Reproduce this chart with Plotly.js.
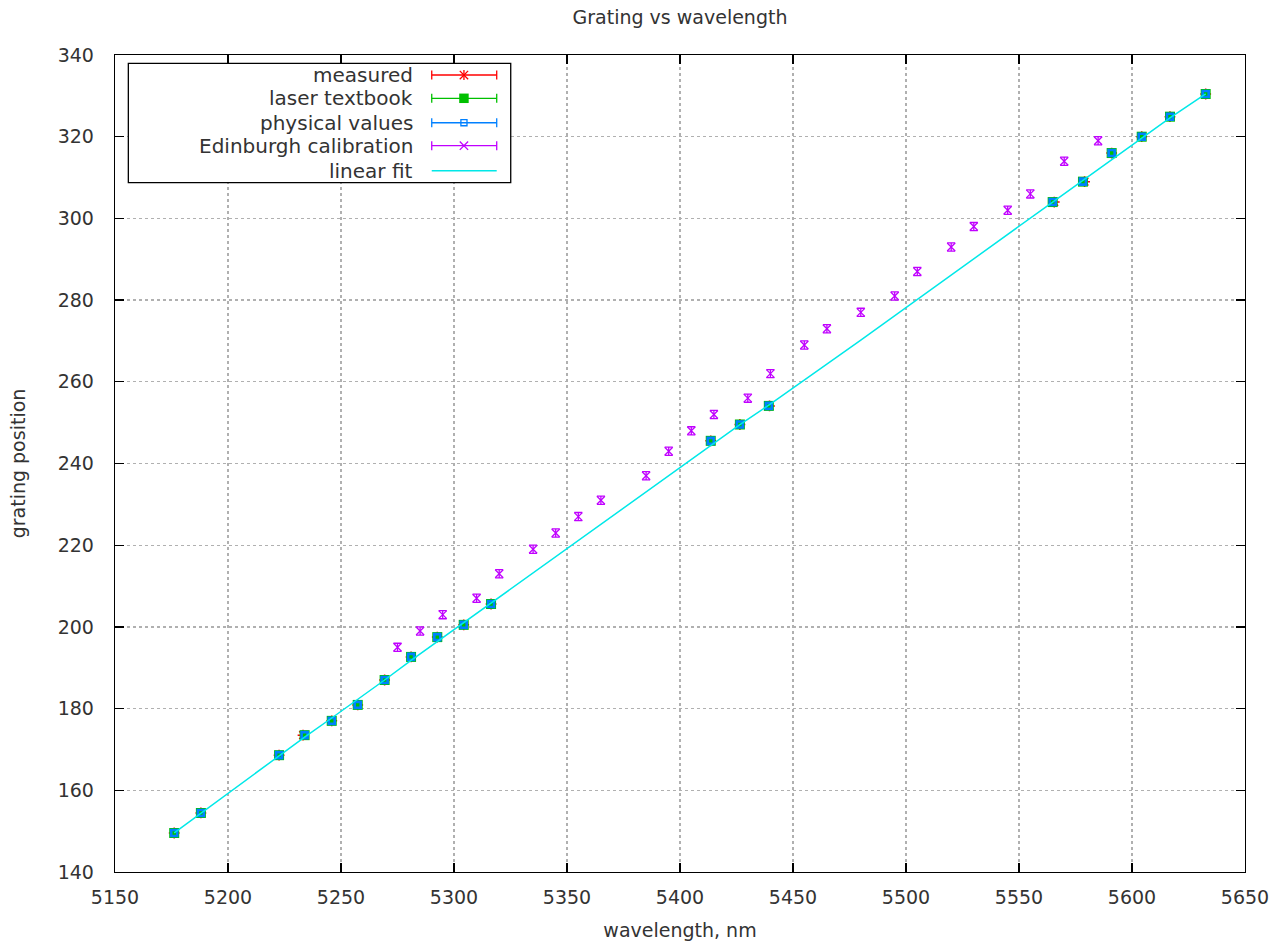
<!DOCTYPE html>
<html>
<head>
<meta charset="utf-8">
<script src="https://cdn.plot.ly/plotly-3.0.1.min.js"></script>
<style>html,body{margin:0;padding:0;background:#fff;}#chart{width:1283px;height:946px;}</style>
</head>
<body>
<div id="chart"></div>
<script>
// wavelength of the lines (nm as labelled on the chart)
const lineX = [5176.2, 5188.0, 5222.6, 5233.9, 5245.9, 5257.4, 5269.3, 5281.0, 5292.6, 5304.3, 5316.4, 5413.6, 5426.5, 5439.3, 5564.9, 5578.3, 5591.0, 5604.3, 5616.8, 5632.6];
// measured grating positions
const measuredX = [5176.2, 5188.0, 5222.6, 5233.2, 5245.9, 5257.4, 5269.3, 5281.0, 5292.6, 5304.3, 5316.4, 5413.6, 5426.5, 5439.6, 5565.6, 5579.0, 5591.0, 5604.3, 5616.8, 5632.6];
const measuredY = [149.55, 154.45, 168.6, 173.5, 177.0, 180.9, 187.0, 192.65, 197.5, 200.5, 205.6, 245.55, 249.55, 254.1, 304.0, 309.0, 316.0, 320.0, 324.9, 330.45];
const textbookY = [149.55, 154.45, 168.6, 173.5, 177.0, 180.9, 187.0, 192.65, 197.5, 200.5, 205.6, 245.55, 249.55, 254.1, 304.0, 309.0, 316.0, 320.0, 324.9, 330.45];
const physicalY = [149.55, 154.45, 168.6, 173.5, 177.0, 180.9, 187.0, 192.65, 197.5, 200.5, 205.6, 245.55, 249.55, 254.1, 304.0, 309.0, 316.0, 320.0, 324.9, 330.45];
// Edinburgh calibration
const edinX = [5275, 5285, 5295, 5310, 5320, 5335, 5345, 5355, 5365, 5385, 5395, 5405, 5415, 5430, 5440, 5455, 5465, 5480, 5495, 5505, 5520, 5530, 5545, 5555, 5570, 5585];
const edinY = [195, 199, 203, 207, 213, 219, 223, 227, 231, 237, 243, 248, 252, 256, 262, 269, 273, 277, 281, 287, 293, 298, 302, 306, 314, 319];
const edinErr = [1,1,1,1,1,1,1,1,1,1,1,1,1,1,1,1,1,1,1,1,1,1,1,1,1,1];
// linear fit
const fitX = [5176.2, 5188.0, 5222.6, 5233.9, 5245.9, 5257.4, 5269.3, 5281.0, 5292.6, 5304.3, 5316.4, 5413.6, 5426.5, 5439.3, 5480.0, 5564.9, 5578.3, 5591.0, 5604.3, 5616.8, 5632.6];
const fitY = [149.6, 154.4, 168.3, 173.0, 177.7, 182.2, 187.0, 191.8, 196.4, 201.0, 205.7, 244.4, 249.5, 254.3, 270.2, 304.0, 309.3, 314.3, 319.6, 324.6, 330.5];

const legendLabels = ["measured", "laser textbook", "physical values", "Edinburgh calibration", "linear fit"];
const colors = ["#ff0000", "#00c000", "#0080ff", "#c000ff", "#00e8e8"];

const FONT = "DejaVu Sans, Verdana, sans-serif";
const TXT = "#333333";

const traces = [
  {x: measuredX, y: measuredY, type: "scatter", mode: "markers", name: legendLabels[0], showlegend: false,
   marker: {symbol: "asterisk-open", size: 9, color: colors[0], line: {color: colors[0], width: 1.5}}},
  {x: lineX, y: textbookY, type: "scatter", mode: "markers", name: legendLabels[1], showlegend: false,
   marker: {symbol: "square", size: 10, color: colors[1], line: {width: 0}}},
  {x: lineX, y: physicalY, type: "scatter", mode: "markers", name: legendLabels[2], showlegend: false,
   marker: {symbol: "square-open", size: 6, color: colors[2], line: {color: "#0a7fd8", width: 2.6}}},
  {x: edinX, y: edinY, type: "scatter", mode: "markers", name: legendLabels[3], showlegend: false,
   error_y: {type: "data", array: edinErr, visible: true, color: colors[3], thickness: 1.3, width: 4},
   marker: {symbol: "x-thin-open", size: 8, color: colors[3], line: {color: colors[3], width: 1.3}}},
  {x: fitX, y: fitY, type: "scatter", mode: "lines", name: legendLabels[4], showlegend: false,
   line: {color: colors[4], width: 1.5}}
];

// custom gnuplot-style legend (paper coordinates)
const L = {x0: 0.0118, x1: 0.3502, y0: 0.8437, y1: 0.9898, textX: 0.2655,
           s0: 0.2803, s1: 0.3378, sc: 0.3088, cap: 0.0055};
const rowsY = [0.9755, 0.9470, 0.9171, 0.8890, 0.8584];
const shapes = [
  {type: "rect", xref: "paper", yref: "paper", x0: L.x0, x1: L.x1, y0: L.y0, y1: L.y1,
   fillcolor: "#ffffff", line: {color: "#000000", width: 1.3}, layer: "above"}
];
const annotations = [];
legendLabels.forEach((lab, i) => {
  const y = rowsY[i];
  annotations.push({xref: "paper", yref: "paper", x: L.textX, y: y, text: lab, showarrow: false,
    xanchor: "right", yanchor: "middle", font: {family: FONT, size: 20, color: TXT}});
  shapes.push({type: "line", xref: "paper", yref: "paper", x0: L.s0, x1: L.s1, y0: y, y1: y,
    line: {color: colors[i], width: i === 4 ? 1.5 : 1.3}, layer: "above"});
  if (i < 4) {
    [L.s0, L.s1].forEach(cx => shapes.push({type: "line", xref: "paper", yref: "paper",
      x0: cx, x1: cx, y0: y - L.cap, y1: y + L.cap, line: {color: colors[i], width: 1.3}, layer: "above"}));
  }
});
// legend sample symbols
const dx = 0.0037, dy = 0.0051;
const r0 = rowsY[0], r1 = rowsY[1], r2 = rowsY[2], r3 = rowsY[3];
shapes.push({type: "line", xref: "paper", yref: "paper", x0: L.sc - dx, x1: L.sc + dx, y0: r0 - dy, y1: r0 + dy, line: {color: colors[0], width: 1.3}, layer: "above"});
shapes.push({type: "line", xref: "paper", yref: "paper", x0: L.sc - dx, x1: L.sc + dx, y0: r0 + dy, y1: r0 - dy, line: {color: colors[0], width: 1.3}, layer: "above"});
shapes.push({type: "line", xref: "paper", yref: "paper", x0: L.sc, x1: L.sc, y0: r0 - dy * 1.2, y1: r0 + dy * 1.2, line: {color: colors[0], width: 1.3}, layer: "above"});
shapes.push({type: "rect", xref: "paper", yref: "paper", x0: L.sc - 0.0042, x1: L.sc + 0.0042, y0: r1 - 0.0058, y1: r1 + 0.0058, fillcolor: colors[1], line: {width: 0}, layer: "above"});
shapes.push({type: "rect", xref: "paper", yref: "paper", x0: L.sc - 0.0027, x1: L.sc + 0.0027, y0: r2 - 0.0037, y1: r2 + 0.0037, fillcolor: "rgba(0,0,0,0)", line: {color: colors[2], width: 1.3}, layer: "above"});
shapes.push({type: "line", xref: "paper", yref: "paper", x0: L.sc - dx, x1: L.sc + dx, y0: r3 - dy, y1: r3 + dy, line: {color: colors[3], width: 1.3}, layer: "above"});
shapes.push({type: "line", xref: "paper", yref: "paper", x0: L.sc - dx, x1: L.sc + dx, y0: r3 + dy, y1: r3 - dy, line: {color: colors[3], width: 1.3}, layer: "above"});

const axisCommon = {
  showline: true, linecolor: "#000000", linewidth: 1.3, mirror: "ticks",
  ticks: "inside", ticklen: 9, tickwidth: 1.3, tickcolor: "#000000",
  showgrid: true, gridcolor: "#b0b0b0", gridwidth: 1.3, griddash: "dot",
  zeroline: false, tickfont: {family: FONT, size: 19, color: TXT}
};

const layout = {
  width: 1283, height: 946,
  margin: {l: 115, r: 38, t: 55, b: 74, pad: 0},
  paper_bgcolor: "#ffffff", plot_bgcolor: "#ffffff",
  showlegend: false,
  title: {text: "Grating vs wavelength", x: 0.5, xref: "paper", xanchor: "center", y: 0.982, yanchor: "middle",
          font: {family: FONT, size: 19, color: TXT}},
  xaxis: Object.assign({}, axisCommon, {
    range: [5150, 5650], dtick: 50, tick0: 5150, ticklabelstandoff: 8,
    title: {text: "wavelength, nm", standoff: 16, font: {family: FONT, size: 19, color: TXT}}
  }),
  yaxis: Object.assign({}, axisCommon, {
    range: [140, 340], dtick: 20, tick0: 140, ticklabelstandoff: 16,
    title: {text: "grating position", standoff: 27, font: {family: FONT, size: 19, color: TXT}}
  }),
  shapes: shapes,
  annotations: annotations
};

Plotly.newPlot("chart", traces, layout, {displayModeBar: false, staticPlot: true});
</script>
</body>
</html>
